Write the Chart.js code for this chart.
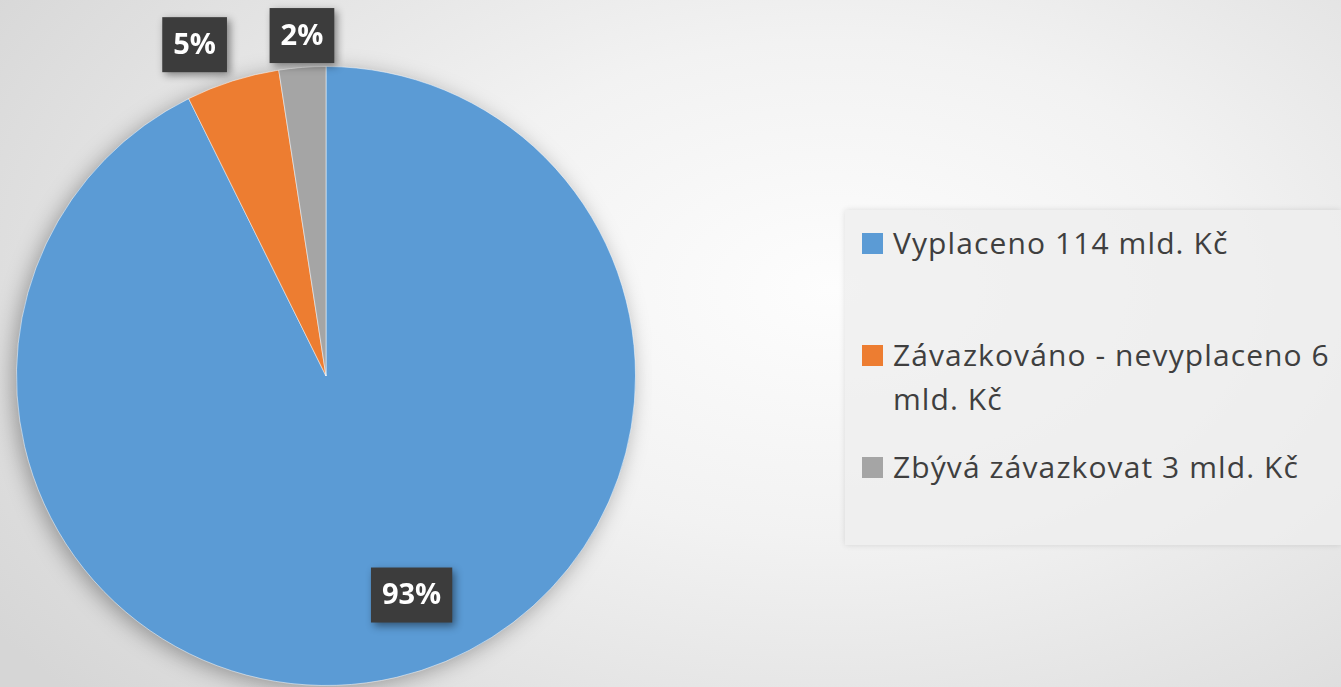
<!DOCTYPE html>
<html>
<head>
<meta charset="utf-8">
<script src="https://cdn.jsdelivr.net/npm/chart.js@4"></script>
<style>
  html, body { margin: 0; padding: 0; }
  body {
    width: 1341px; height: 687px; overflow: hidden; position: relative;
    background: radial-gradient(ellipse 75% 90% at 62% 42%, #fdfdfd 0%, #f2f2f2 40%, #d6d6d6 100%);
    font-family: "Open Sans", sans-serif;
  }
  #wrap { position: absolute; left: 0; top: 0; width: 652px; height: 687px; }
  #legend {
    position: absolute; left: 845px; top: 210px; width: 496px; height: 335px;
    background: rgba(238, 238, 238, 0.75);
    box-shadow: 0 0 6px rgba(0, 0, 0, 0.12);
    box-sizing: border-box; padding: 11px 0 0 17px;
  }
  .item { display: flex; align-items: flex-start; color: #3f3f3f; font-size: 30px; line-height: 44px; letter-spacing: 1.1px; }
  .sw { width: 21px; height: 21px; margin-top: 12px; margin-right: 10px; flex: none; }
  .txt { width: 445px; }
</style>
</head>
<body>
<div id="wrap"><canvas id="myChart"></canvas></div>
<div id="legend"></div>
<script>
const labels = ["Vyplaceno 114 mld. Kč", "Závazkováno - nevyplaceno 6 mld. Kč", "Zbývá závazkovat 3 mld. Kč"];
const values = [114, 6, 3];
const percentLabels = ["93%", "5%", "2%"];
const sliceColors = ["#5b9bd5", "#ed7d31", "#a5a5a5"];

// html legend, spacing like the excel one
const legendEl = document.getElementById("legend");
const gaps = [0, 68, 24];
labels.forEach((text, i) => {
  const row = document.createElement("div");
  row.className = "item";
  row.style.marginTop = gaps[i] + "px";
  row.innerHTML = '<span class="sw" style="background:' + sliceColors[i] + '"></span><span class="txt">' + text + "</span>";
  legendEl.appendChild(row);
});

const pieShadow = {
  id: "pieShadow",
  beforeDatasetsDraw(chart) {
    const arc = chart.getDatasetMeta(0).data[0];
    const ctx = chart.ctx;
    ctx.save();
    ctx.shadowColor = "rgba(0,0,0,0.35)";
    ctx.shadowBlur = 22;
    ctx.shadowOffsetX = -4;
    ctx.shadowOffsetY = 4;
    ctx.fillStyle = sliceColors[0];
    ctx.beginPath();
    ctx.arc(arc.x, arc.y, arc.outerRadius - 1, 0, Math.PI * 2);
    ctx.fill();
    ctx.restore();
  },
};

// dark boxes with the percentages
const boxLabels = {
  id: "boxLabels",
  afterDatasetsDraw(chart) {
    const ctx = chart.ctx;
    const dist = [0.76, 1.15, 1.1];
    const shift = [[32, -10], [-24, 8], [2, -1]];
    chart.getDatasetMeta(0).data.forEach((arc, i) => {
      const mid = (arc.startAngle + arc.endAngle) / 2;
      const r = arc.outerRadius * dist[i];
      const cx = arc.x + Math.cos(mid) * r + shift[i][0];
      const cy = arc.y + Math.sin(mid) * r + shift[i][1];
      ctx.save();
      ctx.font = "bold 29px 'Open Sans'";
      const w = ctx.measureText(percentLabels[i]).width + 22;
      const h = 55;
      ctx.shadowColor = "rgba(0,0,0,0.45)";
      ctx.shadowBlur = 8;
      ctx.shadowOffsetX = 3;
      ctx.shadowOffsetY = 3;
      ctx.fillStyle = "#3c3c3c";
      ctx.fillRect(cx - w / 2, cy - h / 2, w, h);
      ctx.shadowColor = "transparent";
      ctx.fillStyle = "#ffffff";
      ctx.textAlign = "center";
      ctx.textBaseline = "middle";
      ctx.fillText(percentLabels[i], cx, cy + 1);
      ctx.restore();
    });
  },
};

const ctx = document.getElementById("myChart").getContext("2d");
new Chart(ctx, {
  type: "pie",
  data: {
    labels: labels,
    datasets: [
      {
        data: values,
        backgroundColor: sliceColors,
        borderColor: "rgba(255,255,255,0.5)",
        borderWidth: 1,
      },
    ],
  },
  options: {
    responsive: true,
    maintainAspectRatio: false,
    animation: false,
    layout: { padding: { left: 16, right: 16, top: 66, bottom: 1 } },
    plugins: {
      legend: { display: false },
      tooltip: { enabled: false },
    },
  },
  plugins: [pieShadow, boxLabels],
});
</script>
</body>
</html>
